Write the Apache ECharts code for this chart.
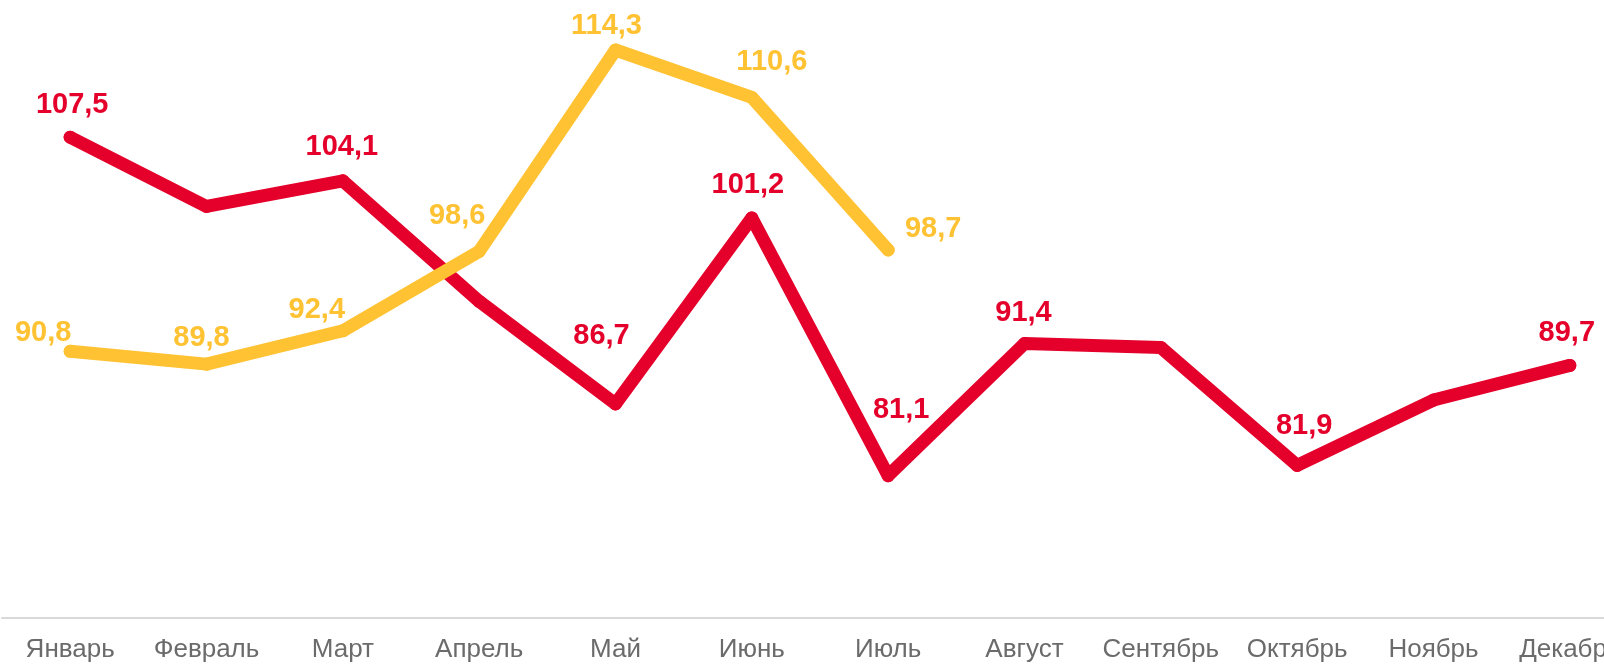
<!DOCTYPE html>
<html>
<head>
<meta charset="utf-8">
<script src="https://cdn.jsdelivr.net/npm/echarts@6/dist/echarts.min.js"></script>
<style>
    html, body { margin: 0; padding: 0; background: #fff; }
    #chart { width: 1604px; height: 666px; }
</style>
</head>
<body>
<div id="chart"></div>
<script>
const months = ['Январь', 'Февраль', 'Март', 'Апрель', 'Май', 'Июнь', 'Июль', 'Август', 'Сентябрь', 'Октябрь', 'Ноябрь', 'Декабрь']

// red line (full year), yellow line (Jan-Jul)
const redValues = [107.5, 102.1, 104.1, 94.7, 86.7, 101.2, 81.1, 91.4, 91.1, 81.9, 87.0, 89.7]
const yellowValues = [90.8, 89.8, 92.4, 98.6, 114.3, 110.6, 98.7]

// which red points carry a value label
const redLabeled = [true, false, true, false, true, true, true, true, false, true, false, true]

// label nudges (px from the point)
const redLabelOffsets = [[2, -32], [0, 0], [-1, -34], [0, 0], [-14, -68], [-4, -33], [13, -66], [-1, -31], [0, 0], [7, -39], [0, 0], [-3, -32]]
const yellowLabelOffsets = [[-27, -18], [-5, -26], [-26, -21], [-22, -35], [-9, -24], [20, -35], [45, -21]]

const RED = '#E4002B'
const YELLOW = '#FFC233'

const fmt = (v) => v.toFixed(1).replace('.', ',')

const buildData = (values, offsets, labeled) => values.map((v, i) => ({
    value: v,
    label: {
        show: labeled ? labeled[i] : true,
        offset: offsets[i]
    }
}))

const lineSeries = (name, color, data) => ({
    name: name,
    type: 'line',
    data: data,
    symbol: 'circle',
    symbolSize: 13,
    itemStyle: { color: color },
    lineStyle: { width: 13, color: color, cap: 'round', join: 'round' },
    label: {
        show: true,
        position: 'inside',
        color: color,
        fontFamily: 'Liberation Sans, Arial, sans-serif',
        fontWeight: 'bold',
        fontSize: 29,
        formatter: (p) => fmt(p.value)
    },
    emphasis: { disabled: true },
    animation: false
})

const myChart = echarts.init(document.getElementById('chart'))

const option = {
    backgroundColor: '#ffffff',
    grid: {
        left: 2,
        top: 0,
        width: 1636,
        height: 618,
        containLabel: false,
        outerBoundsMode: 'none'
    },
    xAxis: {
        type: 'category',
        data: months,
        boundaryGap: true,
        axisLine: { lineStyle: { color: '#d9d9d9', width: 2 } },
        axisTick: { show: false },
        axisLabel: {
            color: '#6b6b6b',
            fontFamily: 'Liberation Sans, Arial, sans-serif',
            fontSize: 26,
            margin: 19,
            interval: 0
        }
    },
    yAxis: {
        type: 'value',
        min: 70,
        max: 118.2,
        show: false,
        splitLine: { show: false }
    },
    series: [
        lineSeries('red', RED, buildData(redValues, redLabelOffsets, redLabeled)),
        lineSeries('yellow', YELLOW, buildData(yellowValues, yellowLabelOffsets))
    ]
}

myChart.setOption(option)
</script>
</body>
</html>
